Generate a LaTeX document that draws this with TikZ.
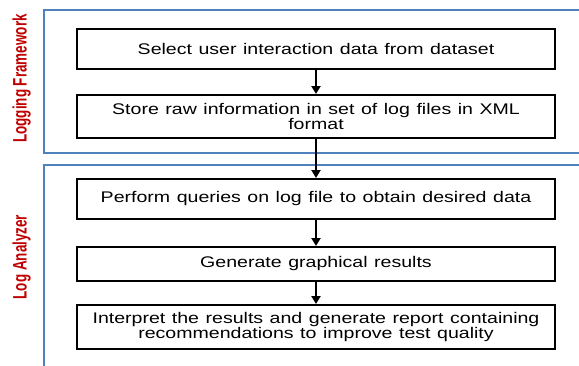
\documentclass[tikz,border=0pt]{standalone}
\usepackage{fontspec}
\setmainfont{Liberation Sans}
\newfontfamily\boxfont[FakeStretch=1.27,WordSpace=1.2]{Liberation Sans}
\newfontfamily\lblfont[FakeStretch=0.69]{Liberation Sans}
\usetikzlibrary{arrows.meta}
\definecolor{frameblue}{HTML}{4F81BD}
\definecolor{lblred}{HTML}{C00000}
\tikzset{
  stepbox/.style={draw=black, line width=2pt, fill=white, inner sep=0pt,
    minimum width=478pt, align=center,
    font=\boxfont\fontsize{15.4}{15.8}\selectfont},
  framebox/.style={draw=frameblue, line width=1.8pt, inner sep=0pt, anchor=north west},
  lbl/.style={rotate=90, anchor=base, text=lblred,
    font=\lblfont\bfseries\fontsize{19.5}{20}\selectfont},
  flow/.style={line width=2.5pt, -{Triangle[width=9pt,length=8pt]}}
}
\begin{document}
\begin{tikzpicture}[x=1pt,y=-1pt]
\clip (0,0) rectangle (579,365);
\fill[white] (0,0) rectangle (579,365);
\node[framebox, minimum width=560pt, minimum height=143pt] (fw) at (43,9) {};
\node[framebox, minimum width=560pt, minimum height=220pt] (an) at (43,164) {};
\node[lbl] (lfw) at (26.7,78.5) {Logging Framework};
\node[lbl] (lan) at (26.7,257) {Log Analyzer};
\node[stepbox, minimum height=40pt] (b1) at (316,49) {Select user interaction data from dataset};
\node[stepbox, minimum height=43pt] (b2) at (316,116.5) {Store raw information in set of log files in XML\\format};
\node[stepbox, minimum height=40pt] (b3) at (316,199) {Perform queries on log file to obtain desired data};
\node[stepbox, minimum height=34pt] (b4) at (316,264) {Generate graphical results};
\node[stepbox, minimum height=44pt] (b5) at (316,327) {Interpret the results and generate report containing\\recommendations to improve test quality};
\draw[flow] (b1.south) -- (b2.north);
\draw[flow] (b2.south) -- (b3.north);
\draw[flow] (b3.south) -- (b4.north);
\draw[flow] (b4.south) -- (b5.north);
\end{tikzpicture}
\end{document}
